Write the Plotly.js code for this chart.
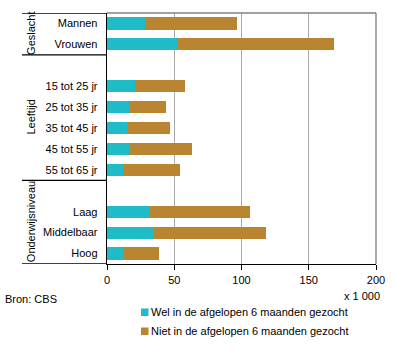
<!DOCTYPE html>
<html><head><meta charset="utf-8">
<script src="https://cdn.plot.ly/plotly-3.0.1.min.js"></script>
<style>html,body{margin:0;padding:0;background:#fff}</style>
</head><body>
<div id="chart" style="width:396px;height:348px"></div>
<script>
const categories = ['Mannen','Vrouwen',' ','15 tot 25 jr','25 tot 35 jr','35 tot 45 jr','45 tot 55 jr','55 tot 65 jr','  ','Laag','Middelbaar','Hoog'];
const welGezocht =  [28.5, 51.8, null, 20.6, 16.1, 14.6, 16.6, 11.7, null, 31.7, 34.7, 12.4];
const nietGezocht = [67.9, 116.8, null, 37.2, 27.5, 32.0, 46.4, 42.3, null, 74.4, 83.3, 26.0];
const seriesNames = ['Wel in de afgelopen 6 maanden gezocht','Niet in de afgelopen 6 maanden gezocht'];
const seriesColors = ['#1fbcc7','#b98530'];
const groups = ['Geslacht','Leeftijd','Onderwijsniveau'];
const xTicks = [0,50,100,150,200];

const font = {family:'Liberation Sans, Arial, sans-serif', size:11, color:'#000'};
const traces = [
  {type:'bar', orientation:'h', y:categories, x:welGezocht, name:seriesNames[0], marker:{color:seriesColors[0]}, width:0.58, hoverinfo:'x'},
  {type:'bar', orientation:'h', y:categories, x:nietGezocht, name:seriesNames[1], marker:{color:seriesColors[1]}, width:0.58, hoverinfo:'x'}
];
const PW = 269, PH = 251;
const px = v => (v - 107) / PW;       // page pixel x -> paper
const py = v => (264 - v) / PH;       // page pixel y -> paper
const lx = px(22);
const blk = {color:'#000', width:1.3};
const shapes = [
  {type:'line', xref:'paper', yref:'y', x0:lx, x1:0, y0:-0.5, y1:-0.5, line:blk},
  {type:'line', xref:'paper', yref:'y', x0:lx, x1:0, y0:1.5, y1:1.5, line:blk},
  {type:'line', xref:'paper', yref:'y', x0:lx, x1:0, y0:7.5, y1:7.5, line:blk},
  {type:'line', xref:'paper', yref:'y', x0:lx, x1:0, y0:11.5, y1:11.5, line:blk},
  {type:'line', xref:'paper', yref:'paper', x0:0, x1:1, y0:1, y1:1, line:{color:'#808080', width:1.3}},
  {type:'line', xref:'paper', yref:'paper', x0:1, x1:1, y0:0, y1:1, line:{color:'#808080', width:1.3}}
];
const annotations = [
  {text:groups[0], xref:'paper', yref:'y', x:px(31), y:0.5, xanchor:'center', yanchor:'middle', textangle:-90, showarrow:false, font:font},
  {text:groups[1], xref:'paper', yref:'y', x:px(31), y:4.5, xanchor:'center', yanchor:'middle', textangle:-90, showarrow:false, font:font},
  {text:groups[2], xref:'paper', yref:'y', x:px(31), y:9.5, xanchor:'center', yanchor:'middle', textangle:-90, showarrow:false, font:font},
  {text:'x 1 000', xref:'paper', yref:'paper', x:px(382), y:py(296), xanchor:'right', yanchor:'middle', showarrow:false, font:font},
  {text:'Bron: CBS', xref:'paper', yref:'paper', x:px(3), y:py(299), xanchor:'left', yanchor:'middle', showarrow:false, font:font}
];
// custom legend (swatch + label) below the chart
const legendRows = [312, 331];
seriesNames.forEach((n, i) => {
  const cy = legendRows[i];
  shapes.push({type:'rect', xref:'paper', yref:'paper', x0:px(141), x1:px(148.5), y0:py(cy+4), y1:py(cy-3.5),
               fillcolor:seriesColors[i], line:{width:0}});
  annotations.push({text:n, xref:'paper', yref:'paper', x:px(149), y:py(cy), xanchor:'left', yanchor:'middle', showarrow:false, font:font});
});
const layout = {
  width:396, height:348,
  margin:{l:107, r:20, t:13, b:84, pad:0},
  paper_bgcolor:'#fff', plot_bgcolor:'#fff',
  font:font,
  barmode:'stack',
  showlegend:false,
  xaxis:{range:[0,200], tickvals:xTicks, ticktext:xTicks.map(String), showgrid:true, gridcolor:'#aaaaaa', gridwidth:1.3,
         showline:true, linecolor:'#000', linewidth:1.3, ticks:'outside', ticklen:5, tickcolor:'#000', zeroline:false, fixedrange:true, automargin:false},
  yaxis:{type:'category', categoryorder:'array', categoryarray:categories, autorange:false, range:[11.5,-0.5],
         showgrid:false, showline:true, linecolor:'#000', linewidth:1.3, ticks:'', ticklabelstandoff:6, zeroline:false, fixedrange:true, automargin:false},
  shapes:shapes,
  annotations:annotations
};
Plotly.newPlot('chart', traces, layout, {displayModeBar:false, staticPlot:true});
</script>
</body></html>
